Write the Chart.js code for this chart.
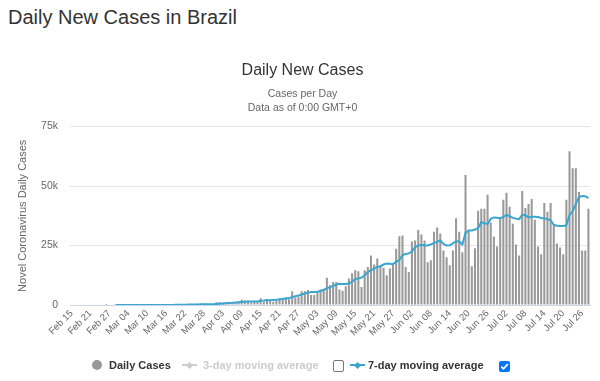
<!DOCTYPE html>
<html>
<head>
<meta charset="utf-8">
<script src="https://cdn.jsdelivr.net/npm/chart.js@4.4.0/dist/chart.umd.min.js"></script>
<style>
html,body{margin:0;padding:0;background:#fff;}
#wrap{position:relative;width:600px;height:381px;overflow:hidden;font-family:"Liberation Sans",Arial,sans-serif;}
#pageTitle{position:absolute;left:8px;top:7px;font-size:20px;line-height:20px;color:#333;margin:0;font-weight:normal;white-space:nowrap;}
canvas{position:absolute;left:0;top:0;}
.lg{position:absolute;font-size:11px;font-weight:bold;line-height:14px;white-space:nowrap;}
.sym{position:absolute;height:2px;}
.dia{position:absolute;width:5px;height:5px;transform:rotate(45deg);}
.cb{position:absolute;box-sizing:border-box;border-radius:2px;}
</style>
</head>
<body>
<div id="wrap">
  <h1 id="pageTitle">Daily New Cases in Brazil</h1>
  <canvas id="c" width="600" height="381"></canvas>
  <!-- legend -->
  <div style="position:absolute;left:92px;top:360px;width:10px;height:10px;border-radius:50%;background:#999;"></div>
  <div class="lg" style="left:109px;top:358px;color:#333;">Daily Cases</div>
  <div class="sym" style="left:182px;top:364px;width:15px;background:#ccc;"></div>
  <div class="dia" style="left:187px;top:362.5px;background:#ccc;"></div>
  <div class="lg" style="left:203px;top:358px;color:#ccc;">3-day moving average</div>
  <div class="cb" style="left:333px;top:360px;width:11px;height:12px;border:1px solid #767676;background:#fff;"></div>
  <div class="sym" style="left:350px;top:364px;width:15px;background:#3aa6cf;"></div>
  <div class="dia" style="left:355px;top:362.5px;background:#3aa6cf;"></div>
  <div class="lg" style="left:368px;top:358px;color:#333;">7-day moving average</div>
  <div class="cb" style="left:499px;top:361px;width:11px;height:11px;background:#0075ff;">
    <svg width="11" height="11" viewBox="0 0 11 11" style="position:absolute;left:0;top:0;"><path d="M2.3 5.6 L4.5 7.8 L8.8 3.2" stroke="#fff" stroke-width="1.8" fill="none"/></svg>
  </div>
</div>
<script>
// ---- categories (dates) ----
const dates = [
 "Feb 15","Feb 16","Feb 17","Feb 18","Feb 19","Feb 20","Feb 21","Feb 22","Feb 23","Feb 24","Feb 25","Feb 26","Feb 27","Feb 28","Feb 29",
 "Mar 01","Mar 02","Mar 03","Mar 04","Mar 05","Mar 06","Mar 07","Mar 08","Mar 09","Mar 10","Mar 11","Mar 12","Mar 13","Mar 14","Mar 15","Mar 16","Mar 17","Mar 18","Mar 19","Mar 20","Mar 21","Mar 22","Mar 23","Mar 24","Mar 25","Mar 26","Mar 27","Mar 28","Mar 29","Mar 30","Mar 31",
 "Apr 01","Apr 02","Apr 03","Apr 04","Apr 05","Apr 06","Apr 07","Apr 08","Apr 09","Apr 10","Apr 11","Apr 12","Apr 13","Apr 14","Apr 15","Apr 16","Apr 17","Apr 18","Apr 19","Apr 20","Apr 21","Apr 22","Apr 23","Apr 24","Apr 25","Apr 26","Apr 27","Apr 28","Apr 29","Apr 30",
 "May 01","May 02","May 03","May 04","May 05","May 06","May 07","May 08","May 09","May 10","May 11","May 12","May 13","May 14","May 15","May 16","May 17","May 18","May 19","May 20","May 21","May 22","May 23","May 24","May 25","May 26","May 27","May 28","May 29","May 30","May 31",
 "Jun 01","Jun 02","Jun 03","Jun 04","Jun 05","Jun 06","Jun 07","Jun 08","Jun 09","Jun 10","Jun 11","Jun 12","Jun 13","Jun 14","Jun 15","Jun 16","Jun 17","Jun 18","Jun 19","Jun 20","Jun 21","Jun 22","Jun 23","Jun 24","Jun 25","Jun 26","Jun 27","Jun 28","Jun 29","Jun 30",
 "Jul 01","Jul 02","Jul 03","Jul 04","Jul 05","Jul 06","Jul 07","Jul 08","Jul 09","Jul 10","Jul 11","Jul 12","Jul 13","Jul 14","Jul 15","Jul 16","Jul 17","Jul 18","Jul 19","Jul 20","Jul 21","Jul 22","Jul 23","Jul 24","Jul 25","Jul 26","Jul 27","Jul 28"
];

// ---- daily new cases (bars) ----
const dailyCases = [
 0,0,0,0,0,0,0,0,0,0,
 0,1,0,0,1,0,0,0,1,1,
 5,5,6,0,6,9,18,25,21,23,
 79,34,57,137,193,283,224,418,345,310,
 232,482,502,487,352,323,1138,1119,1074,1146,
 1222,852,926,1661,2210,1930,1781,1089,1442,1261,
 2800,1400,2500,2100,1400,1800,2100,2100,3200,2400,
 5800,3200,3500,5800,5800,6300,4200,4200,5800,6500,
 6500,11500,8300,9700,9700,6500,6000,7900,11100,13300,
 14600,14200,7600,14600,16000,20800,17000,19500,16300,15700,
 12500,15300,17400,23600,28900,29200,16000,13900,26700,27100,
 31500,29600,27100,18000,18800,30800,32600,30100,22900,20100,
 16700,22900,36500,30800,22200,54600,31000,16300,23800,39600,
 40400,40400,46300,34700,28800,24600,36800,44200,47200,41300,
 34200,25400,20800,47900,40800,42500,44600,35800,24600,21300,
 42900,39200,42900,33300,25800,24200,21300,44200,64600,57500,
 57500,47500,22900,22900,40400
];

// ---- 7-day moving average (line) ----
const movingAvg7 = [
 null,null,null,null,null,null,null,null,null,null,
 null,null,null,null,0,0,0,0,0,1,
 1,2,2,2,3,4,7,10,13,13,
 24,29,37,54,78,105,134,182,223,245,
 252,284,315,329,333,336,450,540,680,780,
 890,940,1030,1110,1240,1360,1440,1420,1480,1510,
 1800,1850,1950,2050,2150,2250,2400,2550,2700,2900,
 3300,3700,4000,4400,4800,5200,5500,5500,5600,5900,
 6400,7000,7500,8000,8600,8900,8800,8800,9000,9800,
 10900,11100,11500,12500,13800,14600,15300,16000,16300,17000,
 17400,17300,17100,18200,18800,21000,21400,21700,22500,24300,
 25000,25300,25000,25000,25500,26000,26600,27100,25700,25000,
 25100,25900,26800,26700,25400,30300,31300,31300,31700,32300,
 34800,34400,34000,36200,36800,36700,36500,37000,37900,37300,
 36600,36300,36100,37900,37700,36800,37100,37100,37000,36600,
 36400,36100,35600,33700,33300,33200,33200,33500,37800,39500,
 42500,45400,45800,45700,44900
];

// ---- tick labels ----
const xTickLabels = ["Feb 15","Feb 21","Feb 27","Mar 04","Mar 10","Mar 16","Mar 22","Mar 28","Apr 03","Apr 09","Apr 15","Apr 21","Apr 27","May 03","May 09","May 15","May 21","May 27","Jun 02","Jun 08","Jun 14","Jun 20","Jun 26","Jul 02","Jul 08","Jul 14","Jul 20","Jul 26"];
const yTickValues = [0, 25000, 50000, 75000];
const yTickLabels = ["0", "25k", "50k", "75k"];

const FONT = '"Liberation Sans", Arial, sans-serif';
const LINE_COLOR = '#3aa6cf';
const BAR_COLOR = '#999999';

new Chart(document.getElementById('c'), {
  data: {
    labels: dates,
    datasets: [
      {
        type: 'line',
        label: '7-day moving average',
        data: movingAvg7,
        borderColor: LINE_COLOR,
        backgroundColor: LINE_COLOR,
        borderWidth: 2,
        pointRadius: 0,
        tension: 0,
        order: 0
      },
      {
        type: 'bar',
        label: 'Daily Cases',
        data: dailyCases,
        backgroundColor: BAR_COLOR,
        barPercentage: 0.65,
        categoryPercentage: 1,
        order: 1
      }
    ]
  },
  options: {
    responsive: false,
    animation: false,
    devicePixelRatio: 1,
    layout: { padding: { left: 15, right: 10, top: 0, bottom: 0 } },
    plugins: {
      legend: { display: false },
      tooltip: { enabled: false },
      title: {
        display: true,
        text: 'Daily New Cases',
        color: '#333333',
        font: { family: FONT, size: 16, weight: 'normal', lineHeight: 1.2 },
        padding: { top: 61, bottom: 6 }
      },
      subtitle: {
        display: true,
        text: ['Cases per Day', 'Data as of 0:00 GMT+0'],
        color: '#666666',
        font: { family: FONT, size: 10.5, lineHeight: 1.35 },
        padding: { top: 1, bottom: 11 }
      }
    },
    scales: {
      x: {
        grid: { display: false, drawTicks: false },
        border: { display: true, color: '#ccd6eb', width: 1 },
        ticks: {
          autoSkip: false,
          minRotation: 45,
          maxRotation: 45,
          color: '#666666',
          font: { family: FONT, size: 9.5 },
          padding: 3,
          callback: function(v, i) { return xTickLabels.includes(dates[i]) ? dates[i] : ''; }
        },
        afterFit: function(s) { s.height = 76; }
      },
      y: {
        min: 0,
        max: 75000,
        afterBuildTicks: function(s) { s.ticks = yTickValues.map(v => ({ value: v })); },
        grid: { color: '#e6e6e6', drawTicks: false, lineWidth: 1 },
        border: { display: false },
        ticks: {
          color: '#666666',
          font: { family: FONT, size: 10.5 },
          padding: 12,
          callback: function(v) { return yTickLabels[yTickValues.indexOf(v)]; }
        },
        title: {
          display: true,
          text: 'Novel Coronavirus Daily Cases',
          color: '#666666',
          font: { family: FONT, size: 11 },
          padding: { top: 1, bottom: 0 }
        },
        afterFit: function(s) { s.width = 55; }
      }
    }
  }
});
</script>
</body>
</html>
